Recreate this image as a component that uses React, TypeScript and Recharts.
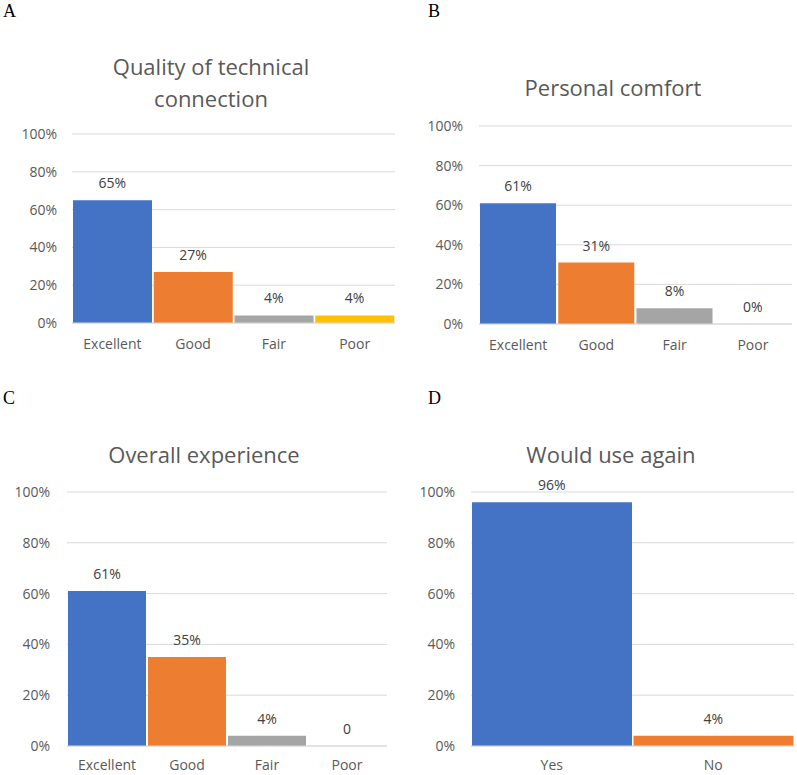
import React from "react";
import { ComposedChart, Bar, Line, XAxis, YAxis, CartesianGrid, Cell, LabelList } from "recharts";

const ratingCategories = ["Excellent", "Good", "Fair", "Poor"];
const technicalValues = [65, 27, 4, 4];
const technicalLabels = ["65%", "27%", "4%", "4%"];
const comfortValues = [61, 31, 8, 0];
const comfortLabels = ["61%", "31%", "8%", "0%"];
const overallValues = [61, 35, 4, 0];
const overallLabels = ["61%", "35%", "4%", "0"];
const againCategories = ["Yes", "No"];
const againValues = [96, 4];
const againLabels = ["96%", "4%"];
const yTicks = [0, 20, 40, 60, 80, 100];
const barColors = ["#4472C4", "#ED7D31", "#A5A5A5", "#FFC000"];

const FONT = "'Open Sans', sans-serif";

type PanelProps = {
  left: number;
  top: number;
  width: number;
  height: number;
  categories: string[];
  values: number[];
  labels: string[];
  margin: { top: number; right: number; bottom: number; left: number };
  yTickMargin: number;
  xTickMargin: number;
};

function Panel(p: PanelProps) {
  const data = p.categories.map((c, i) => ({ name: c, value: p.values[i], label: p.labels[i] }));
  return (
    <div style={{ position: "absolute", left: p.left, top: p.top }}>
      <ComposedChart
        width={p.width}
        height={p.height}
        data={data}
        margin={p.margin}
        barCategoryGap={1}
      >
        <CartesianGrid vertical={false} stroke="#D9D9D9" strokeWidth={1} />
        <XAxis
          dataKey="name"
          axisLine={{ stroke: "#D9D9D9" }}
          tickLine={false}
          tickSize={0}
          tickMargin={p.xTickMargin}
          height={30}
          tick={{ fill: "#595959", fontSize: 14, fontFamily: FONT }}
          interval={0}
        />
        <YAxis
          domain={[0, 100]}
          ticks={yTicks}
          tickFormatter={(v: number) => `${v}%`}
          axisLine={false}
          tickLine={false}
          tickSize={0}
          tickMargin={p.yTickMargin}
          width={60}
          tick={{ fill: "#595959", fontSize: 14, fontFamily: FONT }}
        />
        <Bar dataKey="value" isAnimationActive={false}>
          {data.map((d, i) => (
            <Cell key={d.name} fill={barColors[i]} />
          ))}
        </Bar>
        <Line
          dataKey="value"
          stroke="none"
          dot={false}
          activeDot={false}
          isAnimationActive={false}
        >
          <LabelList
            dataKey="label"
            position="top"
            offset={12}
            fill="#404040"
            fontSize={14}
            fontFamily={FONT}
          />
        </Line>
      </ComposedChart>
    </div>
  );
}

export default function App() {
  const titleStyle = { fill: "#595959", fontSize: 22, fontFamily: FONT } as const;
  const letterStyle = { fill: "#000000", fontSize: 18, fontFamily: "'Liberation Serif', 'Times New Roman', serif" } as const;
  return (
    <div style={{ position: "absolute", left: 0, top: 0, width: 797, height: 775, background: "#FFFFFF" }}>
      <Panel
        left={0}
        top={0}
        width={400}
        height={380}
        categories={ratingCategories}
        values={technicalValues}
        labels={technicalLabels}
        margin={{ top: 134, right: 5, bottom: 27, left: 12 }}
        yTickMargin={15}
        xTickMargin={16}
      />
      <Panel
        left={400}
        top={0}
        width={397}
        height={380}
        categories={ratingCategories}
        values={comfortValues}
        labels={comfortLabels}
        margin={{ top: 126, right: 5, bottom: 26, left: 19 }}
        yTickMargin={16}
        xTickMargin={16}
      />
      <Panel
        left={0}
        top={380}
        width={400}
        height={395}
        categories={ratingCategories}
        values={overallValues}
        labels={overallLabels}
        margin={{ top: 112, right: 13, bottom: -1, left: 7 }}
        yTickMargin={17}
        xTickMargin={14}
      />
      <Panel
        left={400}
        top={380}
        width={397}
        height={395}
        categories={againCategories}
        values={againValues}
        labels={againLabels}
        margin={{ top: 112, right: 3, bottom: -1, left: 11 }}
        yTickMargin={16}
        xTickMargin={14}
      />
      <svg
        width={797}
        height={775}
        style={{ position: "absolute", left: 0, top: 0, pointerEvents: "none" }}
      >
        <text x={3} y={17} style={letterStyle}>A</text>
        <text x={428} y={17} style={letterStyle}>B</text>
        <text x={3} y={404} style={letterStyle}>C</text>
        <text x={428} y={404} style={letterStyle}>D</text>
        <text x={211} y={75} textAnchor="middle" style={titleStyle}>Quality of technical</text>
        <text x={211} y={107} textAnchor="middle" style={titleStyle}>connection</text>
        <text x={613} y={96} textAnchor="middle" style={titleStyle}>Personal comfort</text>
        <text x={204} y={463} textAnchor="middle" style={titleStyle}>Overall experience</text>
        <text x={611} y={463} textAnchor="middle" style={titleStyle}>Would use again</text>
      </svg>
    </div>
  );
}
